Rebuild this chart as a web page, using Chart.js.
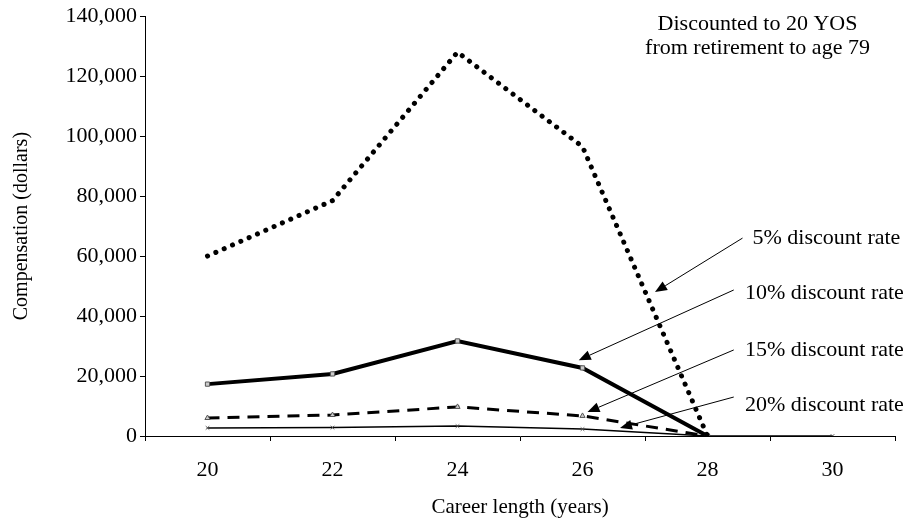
<!DOCTYPE html>
<html>
<head>
<meta charset="utf-8">
<script src="https://cdn.jsdelivr.net/npm/chart.js@4/dist/chart.umd.min.js"></script>
<style>
  html, body { margin: 0; padding: 0; background: #fff; }
  #wrap { width: 916px; height: 526px; }
</style>
</head>
<body>
<div id="wrap"><canvas id="chart" width="916" height="526"></canvas></div>
<script>
// Career length categories and compensation values
const careerYears = ['20', '22', '24', '26', '28', '30'];
const rate5 = [60000, 78500, 128000, 96500, 0, null];
const rate10 = [17300, 20700, 31700, 22700, 0, null];
const rate15 = [6000, 7000, 9700, 6700, 0, null];
const rate20 = [2700, 2800, 3300, 2300, 0, 0];
const yTicks = [0, 20000, 40000, 60000, 80000, 100000, 120000, 140000];

// Callout labels: text, tail of arrow, tip of arrow (category index, dollars)
const calloutText = ['5% discount rate', '10% discount rate', '15% discount rate', '20% discount rate'];
const calloutTail = [[4.28, 66000], [4.21, 48700], [4.21, 28700], [4.21, 13000]];
const calloutTip = [[3.58, 48000], [2.97, 25300], [3.04, 8000], [3.30, 2700]];
const calloutLabel = [[4.36, 66000], [4.30, 47700], [4.30, 28700], [4.30, 10300]];

const noteLines = ['Discounted to 20 YOS', 'from retirement to age 79'];

const SERIF = '"Liberation Serif", "DejaVu Serif", serif';

const calloutPlugin = {
  id: 'callouts',
  afterDatasetsDraw(chart) {
    const { ctx, scales: { x, y } } = chart;
    ctx.save();
    ctx.strokeStyle = '#000';
    ctx.fillStyle = '#000';
    ctx.lineWidth = 1;
    calloutText.forEach((txt, i) => {
      const tx = x.getPixelForValue(calloutTail[i][0]);
      const ty = y.getPixelForValue(calloutTail[i][1]);
      const hx = x.getPixelForValue(calloutTip[i][0]);
      const hy = y.getPixelForValue(calloutTip[i][1]);
      const ang = Math.atan2(hy - ty, hx - tx);
      const len = 12, half = 5;
      ctx.beginPath();
      ctx.moveTo(tx, ty);
      ctx.lineTo(hx - Math.cos(ang) * len, hy - Math.sin(ang) * len);
      ctx.stroke();
      ctx.beginPath();
      ctx.moveTo(hx, hy);
      ctx.lineTo(hx - Math.cos(ang) * len - Math.sin(ang) * half, hy - Math.sin(ang) * len + Math.cos(ang) * half);
      ctx.lineTo(hx - Math.cos(ang) * len + Math.sin(ang) * half, hy - Math.sin(ang) * len - Math.cos(ang) * half);
      ctx.closePath();
      ctx.fill();

      ctx.font = '22px ' + SERIF;
      ctx.textAlign = 'left';
      ctx.textBaseline = 'middle';
      ctx.fillText(txt, x.getPixelForValue(calloutLabel[i][0]), y.getPixelForValue(calloutLabel[i][1]));
    });

    // note in the top right corner
    ctx.font = '22px ' + SERIF;
    ctx.textAlign = 'center';
    ctx.textBaseline = 'middle';
    const cx = x.getPixelForValue(4.4);
    noteLines.forEach((ln, i) => ctx.fillText(ln, cx, chart.chartArea.top + 8 + i * 24));
    ctx.restore();
  }
};

const pointOpts = { pointRadius: 3, pointBackgroundColor: '#ccc', pointBorderColor: '#555', pointBorderWidth: 1 };

new Chart(document.getElementById('chart'), {
  type: 'line',
  data: {
    labels: careerYears,
    datasets: [
      { label: '5%', data: rate5, borderColor: '#000', borderWidth: 5, borderDash: [0.1, 9], borderCapStyle: 'round', pointRadius: 0 },
      { label: '10%', data: rate10, borderColor: '#000', borderWidth: 4, ...pointOpts, pointStyle: 'rect' },
      { label: '15%', data: rate15, borderColor: '#000', borderWidth: 3, borderDash: [12, 8], ...pointOpts, pointStyle: 'triangle' },
      { label: '20%', data: rate20, borderColor: '#000', borderWidth: 1.5, ...pointOpts, pointRadius: 2.5, pointStyle: 'crossRot' }
    ]
  },
  options: {
    responsive: false,
    animation: false,
    layout: { padding: { top: 16, right: 21, left: 0, bottom: 0 } },
    plugins: { legend: { display: false }, tooltip: { enabled: false } },
    scales: {
      x: {
        offset: true,
        grid: { display: true, offset: true, drawOnChartArea: false, drawTicks: true, tickLength: 5, color: '#000' },
        border: { display: true, color: '#000', width: 1 },
        ticks: { color: '#000', font: { family: SERIF, size: 22 }, padding: 16, maxRotation: 0 },
        title: { display: true, text: 'Career length (years)', color: '#000', font: { family: SERIF, size: 21 }, padding: 6 },
        afterFit: (s) => { s.height = 90; }
      },
      y: {
        min: 0,
        max: 140000,
        afterBuildTicks: (s) => { s.ticks = yTicks.map(v => ({ value: v })); },
        grid: { display: true, drawOnChartArea: false, drawTicks: true, tickLength: 5, color: '#000' },
        border: { display: true, color: '#000', width: 1 },
        ticks: { color: '#000', font: { family: SERIF, size: 22 }, padding: 3, callback: v => v.toLocaleString('en-US') },
        title: { display: true, text: 'Compensation (dollars)', color: '#000', font: { family: SERIF, size: 20 }, padding: 10 },
        afterFit: (s) => { s.width = 145; }
      }
    }
  },
  plugins: [calloutPlugin]
});
</script>
</body>
</html>
